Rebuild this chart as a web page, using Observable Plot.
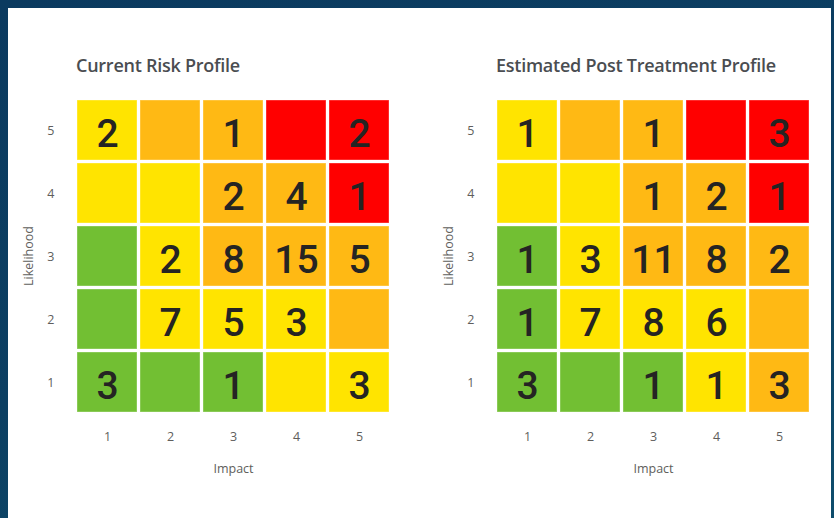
<!DOCTYPE html>
<html>
<head>
<meta charset="utf-8">
<script src="https://cdn.jsdelivr.net/npm/d3@7"></script>
<script src="https://cdn.jsdelivr.net/npm/@observablehq/plot@0.6"></script>
<style>
  html, body { margin: 0; padding: 0; width: 834px; height: 518px; overflow: hidden; }
  body { background: linear-gradient(160deg, #0b3a5f 0%, #0c3f62 50%, #0e4d6c 100%); position: relative; font-family: "Open Sans", sans-serif; }
  #panel { position: absolute; left: 8px; top: 8px; width: 823px; height: 520px; background: #ffffff; }
  .title { position: absolute; font-size: 18px; font-weight: 600; color: #4a4d51; white-space: nowrap; letter-spacing: -0.25px; }
  .chart { position: absolute; top: 0; }
</style>
</head>
<body>
<div id="panel"></div>
<div class="title" id="t1" style="left:76px; top:53px;"></div>
<div class="title" id="t2" style="left:496px; top:53px;"></div>
<div class="chart" id="c1" style="left:0px;"></div>
<div class="chart" id="c2" style="left:420px;"></div>
<script>
// ---- Data ----
const titles = ["Current Risk Profile", "Estimated Post Treatment Profile"];
const impactLevels = [1, 2, 3, 4, 5];
const likelihoodLevels = [5, 4, 3, 2, 1]; // rows top to bottom

// Rating categories and colours
const ratings = ["Low", "Medium", "High", "Extreme"];
const ratingColors = ["#72bf33", "#ffe400", "#ffb914", "#ff0000"];

// Current profile: counts per row (likelihood 5 -> 1), columns impact 1 -> 5
const currentCounts = [
  [2, null, 1, null, 2],
  [null, null, 2, 4, 1],
  [null, 2, 8, 15, 5],
  [null, 7, 5, 3, null],
  [3, null, 1, null, 3]
];
const currentRatings = [
  ["Medium", "High", "High", "Extreme", "Extreme"],
  ["Medium", "Medium", "High", "High", "Extreme"],
  ["Low", "Medium", "High", "High", "High"],
  ["Low", "Medium", "Medium", "Medium", "High"],
  ["Low", "Low", "Low", "Medium", "Medium"]
];

// Post treatment profile
const postCounts = [
  [1, null, 1, null, 3],
  [null, null, 1, 2, 1],
  [1, 3, 11, 8, 2],
  [1, 7, 8, 6, null],
  [3, null, 1, 1, 3]
];
const postRatings = [
  ["Medium", "High", "High", "Extreme", "Extreme"],
  ["Medium", "Medium", "High", "High", "Extreme"],
  ["Low", "Medium", "High", "High", "High"],
  ["Low", "Medium", "Medium", "Medium", "High"],
  ["Low", "Low", "Low", "Medium", "High"]
];

function toTable(counts, levels) {
  const rows = [];
  likelihoodLevels.forEach((l, i) => {
    impactLevels.forEach((im, j) => {
      rows.push({impact: im, likelihood: l, count: counts[i][j], rating: levels[i][j]});
    });
  });
  return rows;
}

function matrix(data) {
  return Plot.plot({
    width: 412,
    height: 500,
    marginLeft: 77,
    marginRight: 23,
    marginTop: 99,
    marginBottom: 88,
    style: {background: "transparent", fontFamily: "'Open Sans', sans-serif", fontSize: "12.5px", color: "#605e5c"},
    x: {domain: impactLevels, paddingInner: 0.048, paddingOuter: 0, label: "Impact", labelAnchor: "center", labelOffset: 60, tickSize: 0, tickPadding: 20},
    y: {domain: likelihoodLevels, paddingInner: 0.048, paddingOuter: 0, label: "Likelihood", labelAnchor: "center", labelOffset: 53, tickSize: 0, tickPadding: 23},
    color: {domain: ratings, range: ratingColors},
    marks: [
      Plot.cell(data, {x: "impact", y: "likelihood", fill: "rating", stroke: "#ffffff", strokeOpacity: 0.35}),
      Plot.text(data.filter(d => d.count != null), {x: "impact", y: "likelihood", text: d => String(d.count), fontFamily: "Roboto, 'Open Sans', sans-serif", fontSize: 39, fontWeight: 500, fill: "#252423", dy: 4})
    ]
  });
}

document.getElementById("t1").textContent = titles[0];
document.getElementById("t2").textContent = titles[1];
document.getElementById("c1").appendChild(matrix(toTable(currentCounts, currentRatings)));
document.getElementById("c2").appendChild(matrix(toTable(postCounts, postRatings)));
</script>
</body>
</html>
